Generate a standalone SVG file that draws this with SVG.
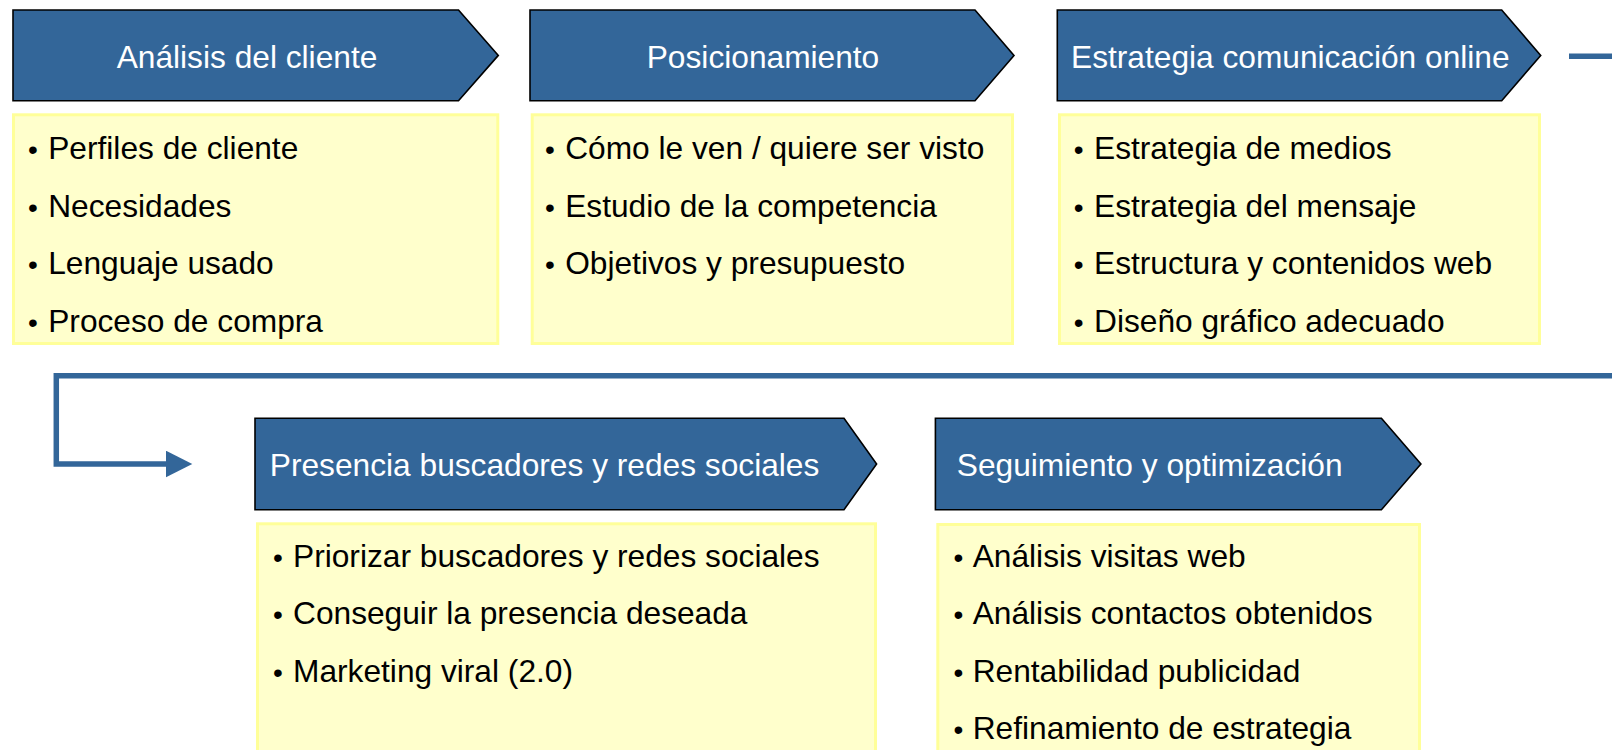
<svg xmlns="http://www.w3.org/2000/svg" width="1612" height="750" viewBox="0 0 1612 750">
<style>
.hdr{fill:#336699;stroke:#000;stroke-width:1.6;stroke-linejoin:miter}
.box{fill:#ffffcc;stroke:#ffff99;stroke-width:3}
.ht{font-family:"Liberation Sans",Arial,sans-serif;font-size:31.7px;fill:#ffffff}
.bt{font-family:"Liberation Sans",Arial,sans-serif;font-size:31.7px;fill:#000000}
.dot{font-size:28px}
.con{fill:none;stroke:#336699;stroke-width:5.5;stroke-linejoin:miter}
</style>
<defs>
<marker id="arr" markerUnits="userSpaceOnUse" markerWidth="28" markerHeight="28" refX="4" refY="13.3" orient="auto">
<path d="M0,0 L26.3,13.3 L0,26.6 Z" fill="#336699"/>
</marker>
</defs>
<rect width="1612" height="750" fill="#ffffff"/>
<g id="connectors">
<path class="con" d="M1569,56.2 H1612"/>
<path class="con" d="M1612,375.7 H56.3 V464 H170" marker-end="url(#arr)"/>
</g>
<g id="node-analisis">
<path class="hdr" d="M13,10 H458.5 L498.3,55.4 L458.5,100.7 H13 Z"/>
<text class="ht" x="247" y="68.3" text-anchor="middle">Análisis del cliente</text>
<rect class="box" x="13.5" y="114.8" width="484.3" height="228.7"/>
<text class="bt" y="159.3"><tspan class="dot" x="28">•</tspan><tspan x="48.2">Perfiles de cliente</tspan></text>
<text class="bt" y="216.7"><tspan class="dot" x="28">•</tspan><tspan x="48.2">Necesidades</tspan></text>
<text class="bt" y="274"><tspan class="dot" x="28">•</tspan><tspan x="48.2">Lenguaje usado</tspan></text>
<text class="bt" y="331.7"><tspan class="dot" x="28">•</tspan><tspan x="48.2">Proceso de compra</tspan></text>
</g>
<g id="node-posicionamiento">
<path class="hdr" d="M530,10 H975 L1014,55.4 L975,100.7 H530 Z"/>
<text class="ht" x="763" y="68.3" text-anchor="middle">Posicionamiento</text>
<rect class="box" x="532.2" y="114.8" width="480.3" height="228.7"/>
<text class="bt" y="159.3"><tspan class="dot" x="545">•</tspan><tspan x="565.2">Cómo le ven / quiere ser visto</tspan></text>
<text class="bt" y="216.7"><tspan class="dot" x="545">•</tspan><tspan x="565.2">Estudio de la competencia</tspan></text>
<text class="bt" y="274"><tspan class="dot" x="545">•</tspan><tspan x="565.2">Objetivos y presupuesto</tspan></text>
</g>
<g id="node-estrategia">
<path class="hdr" d="M1057.3,10 H1501.7 L1540.7,55.4 L1501.7,100.7 H1057.3 Z"/>
<text class="ht" x="1071" y="68.3">Estrategia comunicación online</text>
<rect class="box" x="1059.5" y="114.8" width="480" height="228.7"/>
<text class="bt" y="159.3"><tspan class="dot" x="1073.8">•</tspan><tspan x="1094">Estrategia de medios</tspan></text>
<text class="bt" y="216.7"><tspan class="dot" x="1073.8">•</tspan><tspan x="1094">Estrategia del mensaje</tspan></text>
<text class="bt" y="274"><tspan class="dot" x="1073.8">•</tspan><tspan x="1094">Estructura y contenidos web</tspan></text>
<text class="bt" y="331.7"><tspan class="dot" x="1073.8">•</tspan><tspan x="1094">Diseño gráfico adecuado</tspan></text>
</g>
<g id="node-presencia">
<path class="hdr" d="M255,418.3 H844 L876.6,464 L844,509.7 H255 Z"/>
<text class="ht" x="269.8" y="476">Presencia buscadores y redes sociales</text>
<rect class="box" x="257.5" y="523.8" width="618" height="240"/>
<text class="bt" y="566.7"><tspan class="dot" x="273">•</tspan><tspan x="293">Priorizar buscadores y redes sociales</tspan></text>
<text class="bt" y="624.2"><tspan class="dot" x="273">•</tspan><tspan x="293">Conseguir la presencia deseada</tspan></text>
<text class="bt" y="681.7"><tspan class="dot" x="273">•</tspan><tspan x="293">Marketing viral (2.0)</tspan></text>
</g>
<g id="node-seguimiento">
<path class="hdr" d="M935.4,418.3 H1381.4 L1420.9,464 L1381.4,509.7 H935.4 Z"/>
<text class="ht" x="956.8" y="476">Seguimiento y optimización</text>
<rect class="box" x="937.8" y="524.5" width="481.7" height="240"/>
<text class="bt" y="566.7"><tspan class="dot" x="953.5">•</tspan><tspan x="972.7">Análisis visitas web</tspan></text>
<text class="bt" y="624.2"><tspan class="dot" x="953.5">•</tspan><tspan x="972.7">Análisis contactos obtenidos</tspan></text>
<text class="bt" y="681.7"><tspan class="dot" x="953.5">•</tspan><tspan x="972.7">Rentabilidad publicidad</tspan></text>
<text class="bt" y="739.3"><tspan class="dot" x="953.5">•</tspan><tspan x="972.7">Refinamiento de estrategia</tspan></text>
</g>
</svg>
